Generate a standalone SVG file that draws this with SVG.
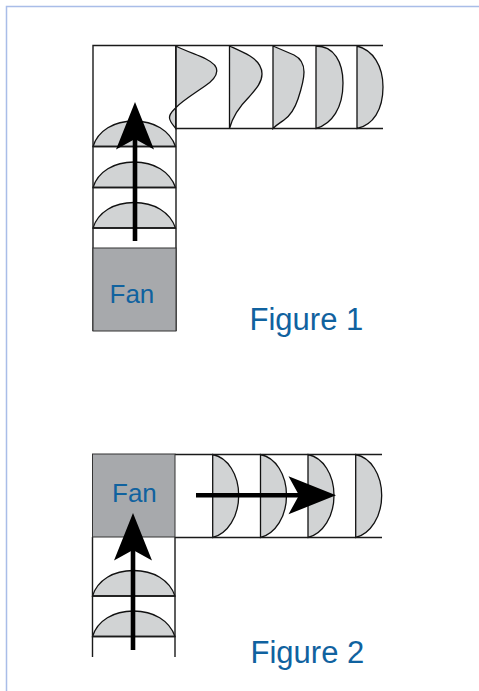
<svg xmlns="http://www.w3.org/2000/svg" width="479" height="691" viewBox="0 0 479 691">
<style>
.duct{fill:none;stroke:#1a1a1a;stroke-width:1.4}
.fan{fill:#a7a9ac;stroke:#333;stroke-width:1}
.prof{fill:#d1d3d4;stroke:#111;stroke-width:1.3}
.arrow{fill:none;stroke:#000;stroke-width:4.6;marker-end:url(#head)}
text{font-family:"Liberation Sans",Arial,sans-serif;fill:#10629f}
.fl{font-size:26px}
.cap{font-size:31px}
</style>
<defs>
<marker id="head" markerUnits="userSpaceOnUse" markerWidth="52" markerHeight="42" refX="12" refY="21" orient="auto">
<path d="M12 21L1.500 2L49 21L1.500 40Z" fill="#000"/>
</marker>
<path id="arcV" d="M0 0C5 -16 21 -25.500 41 -25.500C61 -25.500 77 -16 82.500 0Z"/>
<path id="arcH" d="M0 0C15 3 26 20 26 41C26 62 15 79 0 83Z"/>
</defs>
<path d="M6.500 691V6.500H479" fill="none" stroke="#a9bde8" stroke-width="1.5"/>
<g id="figure1-duct">
<use href="#arcV" class="prof" x="93" y="146.500"/>
<use href="#arcV" class="prof" x="93" y="187.500"/>
<use href="#arcV" class="prof" x="93" y="228"/>
<path class="prof" d="M175.700 46C188 52 198 55 206 59C214 63 217 67 216.800 71C216.500 77 211 82 205 86C195 93 182 101 175.500 108C172 111.500 169 114 169.500 118C170 122 173 125 175.700 128.500Z"/>
<path class="prof" d="M229.500 46C236 49 243 52 250 56C258 61 262 67 262 74C262 83 255 90 249 97C241 105 233 115 229.500 128.500Z"/>
<path class="prof" d="M273 46C280 49 287 52 294 55C302 59 304 65 304 72C304 80 301 90 298 99C295 108 291 115 284 120C280 123 276 125 273 128.500Z"/>
<path class="prof" d="M316 46C334 46 343 62 343 83C343 108 332 124 316 128.500Z"/>
<path class="prof" d="M357 46C373 50 383 66 383 87C383 110 373 125 357 128.500Z"/>
<path class="duct" d="M383 45.500H93V331M176 45.500V128.500M176 128.500V331M176 128.500H383M93 146.500H176M93 187.500H176M93 228H176"/>
</g>
<g id="fan1">
<rect class="fan" x="93" y="248" width="83" height="83"/>
<text class="fl" x="109.500" y="302.500">Fan</text>
</g>
<g id="figure2-duct">
<use href="#arcV" class="prof" x="92.500" y="596"/>
<use href="#arcV" class="prof" x="92.500" y="636.500"/>
<use href="#arcH" class="prof" x="212.700" y="454.500"/>
<use href="#arcH" class="prof" x="260.500" y="454.500"/>
<use href="#arcH" class="prof" x="308" y="454.500"/>
<use href="#arcH" class="prof" x="355.700" y="454.500"/>
<path class="duct" d="M175 454.500H382M175 537.500H382M92.500 537V657M175 537V657M92.500 596H175M92.500 636.500H175"/>
</g>
<g id="fan2">
<rect class="fan" x="92.500" y="454" width="82.500" height="83"/>
<text class="fl" x="112" y="501.500">Fan</text>
</g>
<g id="connectors">
<path class="arrow" d="M135 241V139"/>
<path class="arrow" d="M133 650V550"/>
<path class="arrow" d="M196 495.300H299"/>
</g>
<g id="captions">
<text class="cap" x="249.500" y="329.500">Figure 1</text>
<text class="cap" x="250.500" y="663">Figure 2</text>
</g>
</svg>
